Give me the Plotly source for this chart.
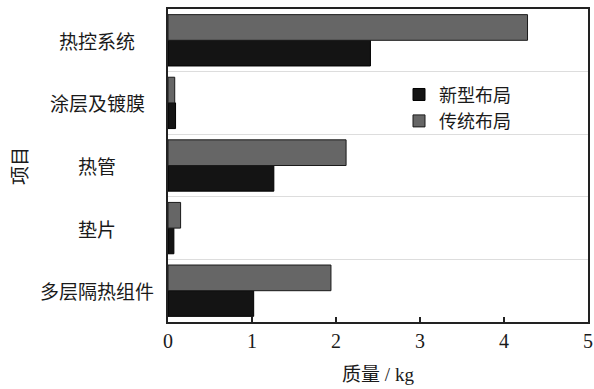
import plotly.graph_objects as go

# Data (categories listed top-to-bottom as in the picture)
categories = ["热控系统", "涂层及镀膜", "热管", "垫片", "多层隔热组件"]
new_layout = [2.41, 0.09, 1.26, 0.07, 1.02]
traditional_layout = [4.28, 0.08, 2.12, 0.15, 1.94]
series_names = ["新型布局", "传统布局"]
x_ticks = [0, 1, 2, 3, 4, 5]

cjk = "Noto Sans CJK SC"
serif = "Liberation Serif, Noto Sans CJK SC"

fig = go.Figure()
fig.add_trace(go.Bar(
    y=categories, x=new_layout, name=series_names[0], orientation="h",
    marker=dict(color="#141414", line=dict(color="#000000", width=1)),
))
fig.add_trace(go.Bar(
    y=categories, x=traditional_layout, name=series_names[1], orientation="h",
    marker=dict(color="#666666", line=dict(color="#1a1a1a", width=1)),
))

# Category labels centred (as in the reference) via annotations on the y axis
for c in categories:
    fig.add_annotation(
        x=-0.169, xref="paper", y=c, yref="y", text=c, showarrow=False,
        xanchor="center", yanchor="middle",
        font=dict(family=cjk, size=19, color="#1a1a1a"),
    )

fig.add_annotation(
    x=-0.356, xref="paper", y=0.5, yref="paper", text="项目", textangle=-90,
    showarrow=False, xanchor="center", yanchor="middle",
    font=dict(family=cjk, size=19, color="#1a1a1a"),
)

fig.update_layout(
    width=594, height=389,
    margin=dict(l=168, r=6, t=9, b=67, autoexpand=False),
    paper_bgcolor="white", plot_bgcolor="white",
    barmode="group", bargap=0.18, bargroupgap=0,
    showlegend=True,
    legend=dict(
        x=0.55, y=0.785, xanchor="left", yanchor="top",
        bgcolor="rgba(0,0,0,0)", borderwidth=0,
        font=dict(family=cjk, size=18, color="#1a1a1a"),
        tracegroupgap=0, traceorder="normal",
    ),
    xaxis=dict(
        range=[0, 5], tickvals=x_ticks, ticktext=[str(v) for v in x_ticks],
        automargin=False,
        showline=True, linecolor="#222222", linewidth=1.5, mirror=True,
        ticks="inside", ticklen=5, tickcolor="#222222", tickwidth=1.5,
        showgrid=False, zeroline=False,
        tickfont=dict(family=serif, size=20, color="#1a1a1a"),
        title=dict(text="质量 / kg", font=dict(family=serif, size=19, color="#1a1a1a"),
                   standoff=17),
    ),
    yaxis=dict(
        categoryorder="array", categoryarray=categories[::-1],
        automargin=False,
        showline=True, linecolor="#222222", linewidth=1.5, mirror=True,
        showticklabels=False, ticks="", tickson="boundaries",
        showgrid=True, gridcolor="#dddddd", gridwidth=1, zeroline=False,
    ),
)

fig.write_html(
    "out.html",
    config={"displayModeBar": False},
    post_script="document.body.style.margin='0';document.body.style.padding='0';",
)
